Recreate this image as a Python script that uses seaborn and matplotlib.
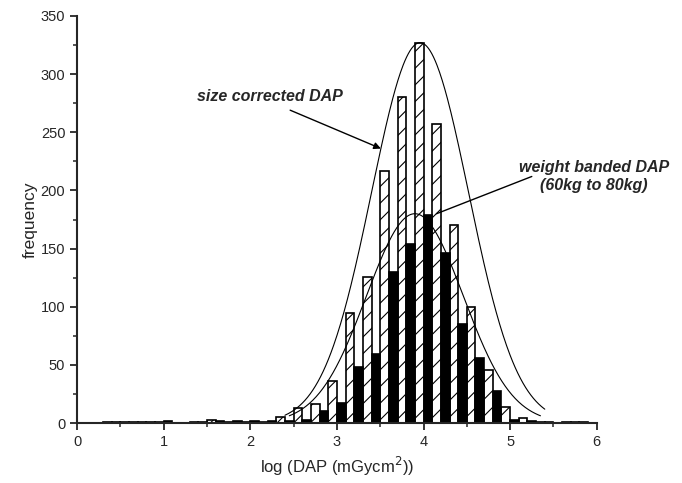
import numpy as np
import pandas as pd
import matplotlib
matplotlib.use("Agg")
import matplotlib.pyplot as plt
import seaborn as sns
from matplotlib.ticker import MultipleLocator

# ---- data ----
bin_centers = [0.4, 0.6, 0.8, 1.0, 1.2, 1.4, 1.6, 1.8, 2.0, 2.2, 2.4, 2.6, 2.8, 3.0,
               3.2, 3.4, 3.6, 3.8, 4.0, 4.2, 4.4, 4.6, 4.8, 5.0, 5.2, 5.4, 5.6, 5.8]
size_corrected = [1, 1, 1, 1, 0, 1, 3, 1, 1, 1, 5, 13, 16, 36,
                  95, 126, 217, 280, 327, 257, 170, 100, 46, 14, 4, 1, 0, 1]
weight_banded = [1, 1, 1, 2, 0, 1, 2, 2, 2, 2, 2, 3, 10, 17,
                 48, 59, 130, 154, 179, 146, 85, 56, 28, 3, 2, 1, 1, 1]
series_names = ["size corrected DAP", "weight banded DAP"]

# Gaussian fits (peak, mean, sigma, x-range)
fit_size = dict(peak=327, mean=3.96, sigma=0.56, lo=2.4, hi=5.4)
fit_weight = dict(peak=180, mean=3.90, sigma=0.56, lo=2.45, hi=5.35)

xticks = [0, 1, 2, 3, 4, 5, 6]
yticks = [0, 50, 100, 150, 200, 250, 300, 350]

# ---- figure ----
sns.set_style("ticks")
plt.rcParams["font.family"] = ["Liberation Sans", "DejaVu Sans"]
plt.rcParams["hatch.linewidth"] = 0.8
fig = plt.figure(figsize=(6.82, 4.83), dpi=100)
ax = fig.add_axes([0.113, 0.124, 0.762, 0.843])

df = pd.DataFrame({
    "x": np.round(bin_centers * 2, 2),
    "freq": size_corrected + weight_banded,
    "series": [series_names[0]] * len(bin_centers) + [series_names[1]] * len(bin_centers),
})
sns.barplot(data=df, x="x", y="freq", hue="series", native_scale=True, dodge=True,
            width=1.0, palette=["white", "black"], edgecolor="black", linewidth=1.2,
            legend=False, ax=ax, errorbar=None)

n = len(bin_centers)
for i, p in enumerate(ax.patches):
    p.set_zorder(2)
    if i < n:
        p.set_hatch("//")
        p.set_facecolor("white")
        p.set_edgecolor("black")

for fit in (fit_size, fit_weight):
    xs = np.linspace(fit["lo"], fit["hi"], 300)
    ys = fit["peak"] * np.exp(-(xs - fit["mean"]) ** 2 / (2 * fit["sigma"] ** 2))
    sns.lineplot(x=xs, y=ys, color="black", linewidth=0.8, ax=ax, zorder=3)

ax.set_xlim(0, 6)
ax.set_ylim(0, 350)
ax.set_xticks(xticks)
ax.set_yticks(yticks)
ax.xaxis.set_minor_locator(MultipleLocator(0.5))
ax.yaxis.set_minor_locator(MultipleLocator(25))
ax.tick_params(which="major", direction="out", length=5, width=1.3, labelsize=10.5)
ax.tick_params(which="minor", direction="out", length=3, width=1.1)
for s in ("left", "bottom"):
    ax.spines[s].set_linewidth(1.5)
sns.despine(ax=ax)

ax.set_xlabel("log (DAP (mGycm$^2$))", fontsize=12)
ax.set_ylabel("frequency", fontsize=12.5, labelpad=2)

ax.text(2.23, 281, "size corrected DAP", fontsize=11.5, fontstyle="italic",
        fontweight="bold", ha="center", va="center")
# arrow tip placed on the left flank of the size-corrected fit at height 236
tip_y = 236
tip_x = fit_size["mean"] - fit_size["sigma"] * np.sqrt(2 * np.log(fit_size["peak"] / tip_y))
ax.annotate("", xy=(tip_x, tip_y), xytext=(2.46, 269),
            arrowprops=dict(arrowstyle="-|>", color="black", lw=1.0,
                            mutation_scale=10, shrinkA=0, shrinkB=0))
ax.text(5.97, 212, "weight banded DAP\n(60kg to 80kg)", fontsize=11.5,
        fontstyle="italic", fontweight="bold", ha="center", va="center",
        linespacing=1.3, clip_on=False)
ax.annotate("", xy=(4.15, 180), xytext=(5.25, 212),
            arrowprops=dict(arrowstyle="-", color="black", lw=1.0,
                            shrinkA=0, shrinkB=0))

fig.savefig("out.png", dpi=100)
